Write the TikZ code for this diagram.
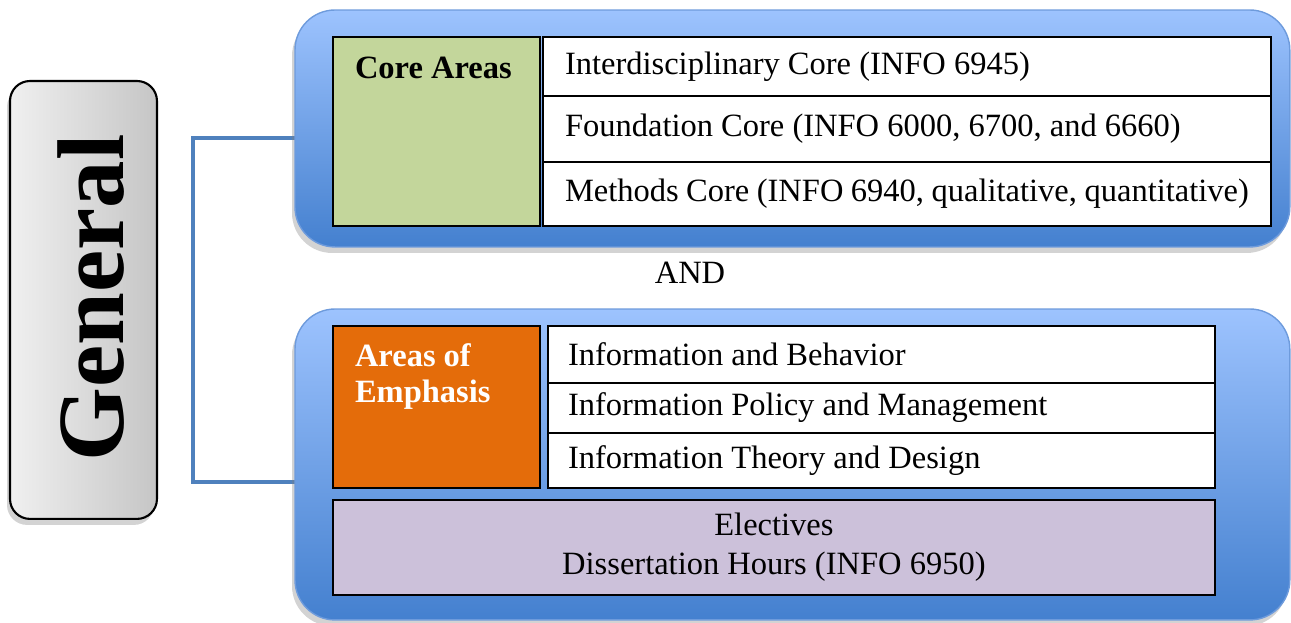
\documentclass[tikz,border=0pt]{standalone}
\usepackage{fontspec}
\setmainfont{Liberation Serif}
\usetikzlibrary{positioning,shadows}
\definecolor{paneltop}{HTML}{9DC3FE}
\definecolor{panelbot}{HTML}{4480CF}
\definecolor{panelline}{HTML}{6E9BDC}
\definecolor{coregreen}{HTML}{C3D69B}
\definecolor{emphorange}{HTML}{E46C0A}
\definecolor{electpurple}{HTML}{CCC1DA}
\definecolor{linkblue}{HTML}{4F81BD}
\tikzset{
	every node/.style = {font=\fontsize{18.5}{22}\selectfont, inner sep=0, outer sep=0},
	shade/.style = {drop shadow={shadow xshift=-0.06cm, shadow yshift=-0.12cm, opacity=0.35}},
	panel/.style = {draw=panelline, thick, top color=paneltop, bottom color=panelbot, rounded corners=0.8cm, anchor=north west, minimum width=19.9cm, minimum height=#1, shade},
	cell/.style = {draw, line width=1.2pt, anchor=north west},
	toprow/.style = {cell, fill=white, text width=13.68cm, inner xsep=0.44cm, align=flush left, minimum height=#1},
	botrow/.style = {cell, fill=white, text width=12.54cm, inner xsep=0.4cm, align=flush left, minimum height=#1},
	link/.style = {draw=linkblue, line width=2.3pt}
}
\begin{document}
\begin{tikzpicture}[x=0.02cm, y=-0.02cm]
		\useasboundingbox (0,0) rectangle (1291,622);
		\coordinate(jtop) at (295,138);
		\coordinate(jbot) at (295,482);
		\draw[link] (jtop) -- ++(-102,0) |- (jbot);

		\node(general)[draw, line width=1.2pt, left color=gray!12, right color=gray!45, rounded corners=0.4cm, anchor=north west, minimum width=2.94cm, minimum height=8.76cm, shade] at (10,81) {};
		\node(generaltext)[rotate=90, font=\fontsize{54}{54}\selectfont\bfseries] at (91,298) {General};

		\node(top)[panel=4.74cm] at (295,10) {};
		\node(core)[cell, fill=coregreen, minimum width=4.14cm, minimum height=3.78cm] at (333,37) {};
		\node(coretext)[anchor=north west, font=\fontsize{18.5}{22}\selectfont\bfseries] at (355,57) {Core Areas};
		\node(inter)[toprow=1.18cm] at (543,37) {Interdisciplinary Core (INFO 6945)};
		\node(found)[toprow=1.32cm, below=0pt of inter] {Foundation Core (INFO 6000, 6700, and 6660)};
		\node(methods)[toprow=1.28cm, below=0pt of found] {Methods Core (INFO 6940, qualitative, quantitative)};

		\node(and) at (690,273) {AND};

		\node(bottom)[panel=6.22cm] at (295,309) {};
		\node(emph)[cell, fill=emphorange, minimum width=4.14cm, minimum height=3.24cm] at (333,326) {};
		\node(emphtext)[anchor=north west, align=flush left, text=white, font=\fontsize{18.5}{20.5}\selectfont\bfseries] at (355,344) {Areas of\\Emphasis};
		\node(behavior)[botrow=1.14cm] at (548,326) {Information and Behavior};
		\node(policy)[botrow=1.0cm, below=0pt of behavior] {Information Policy and Management};
		\node(theory)[botrow=1.1cm, below=0pt of policy] {Information Theory and Design};
		\node(electives)[cell, fill=electpurple, align=center, minimum width=17.64cm, minimum height=1.9cm] at (333,500) {Electives\\Dissertation Hours (INFO 6950)};
\end{tikzpicture}
\end{document}
